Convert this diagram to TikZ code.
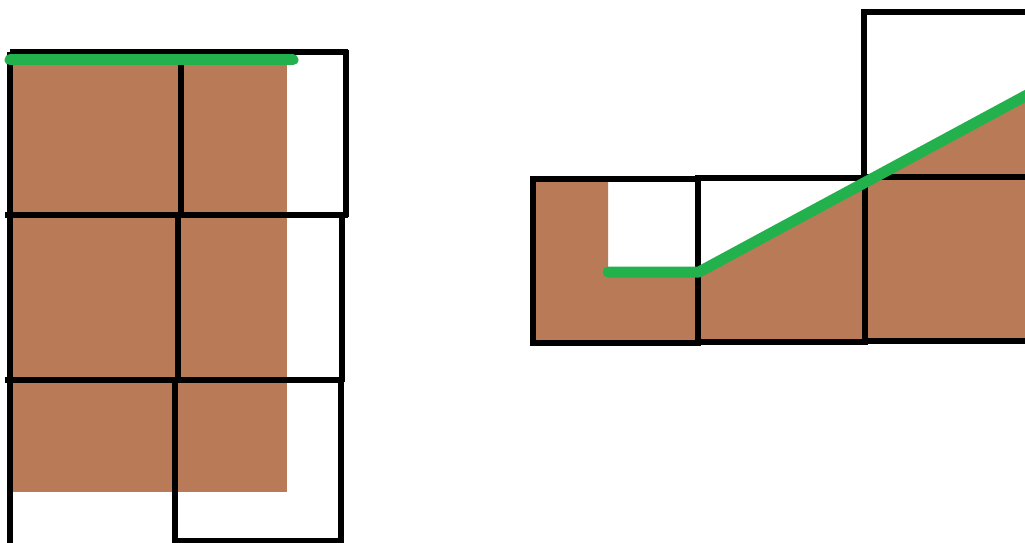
\documentclass[tikz,border=0pt]{standalone}
\definecolor{dirt}{RGB}{185,122,87}
\definecolor{grass}{RGB}{34,177,76}
\begin{document}
\begin{tikzpicture}[x=1pt,y=-1pt,
  wall/.style={line width=5.5pt, black},
  grassline/.style={line width=11pt, grass, line cap=round, line join=round}]
\useasboundingbox (0,0) rectangle (1025,543);
\begin{scope}
\clip (0,0) rectangle (1025,543);
% left column of blocks
\fill[dirt] (12,56) rectangle (287,492);
\draw[wall] (10,52) -- (10,545);
\draw[wall] (10,52) -- (348,52);
\draw[wall] (181,52) -- (181,215);
\draw[wall] (346,50) -- (346,217);
\draw[wall] (5,215) -- (348,215);
\draw[wall] (178,215) -- (178,380);
\draw[wall] (342,215) -- (342,382);
\draw[wall] (5,380) -- (344,380);
\draw[wall] (175,380) -- (175,545);
\draw[wall] (341,380) -- (341,545);
\draw[wall] (175,541) -- (341,541);
\draw[grassline] (10,60) -- (293,60);
% right row of blocks
\fill[dirt] (533,179) -| (608,271) -- (700,271) -- (1030,93) -- (1030,343) -- (533,343) -- cycle;
\draw[wall] (533,179) rectangle (698,343);
\draw[wall] (698,178) rectangle (865,342);
\draw[wall] (864,12) rectangle (1040,177);
\draw[wall] (865,177) rectangle (1040,341);
\draw[grassline] (608,272) -- (699,272) -- (1040,88);
\end{scope}
\end{tikzpicture}
\end{document}
